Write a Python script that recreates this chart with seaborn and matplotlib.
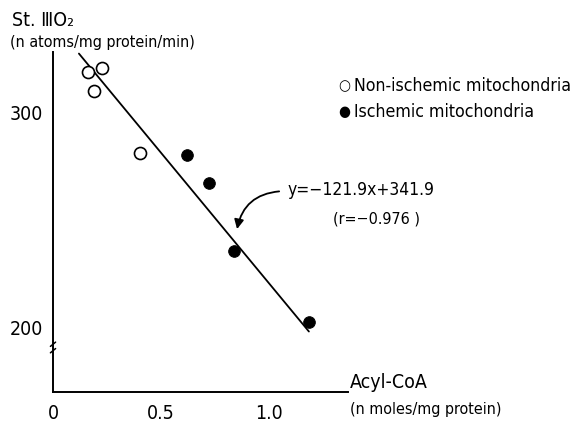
import numpy as np
import pandas as pd
import matplotlib
matplotlib.use("Agg")
import matplotlib.pyplot as plt
import seaborn as sns

# values
non_isch_x = [0.163, 0.227, 0.191, 0.401]
non_isch_y = [318.8, 320.4, 309.7, 280.7]
isch_x = [0.619, 0.724, 0.839, 1.185]
isch_y = [280.0, 266.7, 235.0, 201.7]
slope, intercept = -121.9, 341.9
fit_x = [0.12, 1.185]
x_ticks = [0, 0.5, 1.0]
x_tick_labels = ["0", "0.5", "1.0"]
y_ticks = [200, 300]

sns.set_style("white")
plt.rcParams['font.family'] = ['DejaVu Sans']
plt.rcParams['font.stretch'] = 'condensed'
plt.rcParams['text.color'] = 'black'
plt.rcParams['xtick.color'] = 'black'
plt.rcParams['ytick.color'] = 'black'

data = pd.DataFrame({
    "acyl": non_isch_x + isch_x,
    "o2": non_isch_y + isch_y,
    "group": ["Non-ischemic mitochondria"] * len(non_isch_x) + ["Ischemic mitochondria"] * len(isch_x),
})
fit = pd.DataFrame({"acyl": fit_x, "o2": [slope * v + intercept for v in fit_x]})

fig = plt.figure(figsize=(5.85, 4.31), dpi=100)
ax = fig.add_axes([53 / 585, 38 / 431, 295 / 585, 340 / 431])

sns.lineplot(x="acyl", y="o2", data=fit, color="black", linewidth=1.3, ax=ax)
sns.scatterplot(x="acyl", y="o2", data=data[data.group == "Non-ischemic mitochondria"],
                marker="o", s=75, facecolor="white", edgecolor="black", linewidth=1.2, ax=ax, zorder=3)
sns.scatterplot(x="acyl", y="o2", data=data[data.group == "Ischemic mitochondria"],
                marker="o", s=70, color="black", edgecolor="black", ax=ax, zorder=3)

ax.set_xlim(0, 1.366)
ax.set_ylim(169.2, 328)
ax.set_xticks(x_ticks)
ax.set_xticklabels(x_tick_labels, fontsize=14)
ax.set_yticks(y_ticks)
ax.set_yticklabels([str(v) for v in y_ticks], fontsize=14)
ax.tick_params(axis="both", direction="out", length=5, width=1.2, pad=2)
ax.tick_params(axis="x", length=4, pad=4)
ax.set_xlabel("")
ax.set_ylabel("")
for side in ["top", "right"]:
    ax.spines[side].set_visible(False)
for side in ["left", "bottom"]:
    ax.spines[side].set_color("black")
    ax.spines[side].set_linewidth(1.4)

# axis break marks on the y axis
for yb in [188.5, 191.5]:
    ax.plot([-0.012, 0.012], [yb - 1.0, yb + 1.0], color="black", lw=1.1, clip_on=False)

# axis titles
fig.text(12 / 585, 1 - 20 / 431, "St. \u2162O\u2082", fontsize=14, va="center", ha="left")
fig.text(10 / 585, 1 - 42 / 431, "(n atoms/mg protein/min)", fontsize=11.5, va="center", ha="left")
fig.text(350 / 585, 1 - 383 / 431, "Acyl-CoA", fontsize=14, va="center", ha="left")
fig.text(350 / 585, 1 - 410 / 431, "(n moles/mg protein)", fontsize=11.5, va="center", ha="left")

# legend
fig.text(338 / 585, 1 - 86 / 431, "\u25cb", fontsize=11, va="center", ha="left")
fig.text(354 / 585, 1 - 86 / 431, "Non-ischemic mitochondria", fontsize=12.7, va="center", ha="left")
fig.text(338 / 585, 1 - 112 / 431, "\u25cf", fontsize=11, va="center", ha="left")
fig.text(354 / 585, 1 - 112 / 431, "Ischemic mitochondria", fontsize=12.7, va="center", ha="left")

# regression equation with arrow
ax.annotate("", xy=(0.85, 244.0), xytext=(1.06, 263.0),
            arrowprops=dict(arrowstyle="-|>", color="black", lw=1.3,
                            connectionstyle="arc3,rad=0.4", mutation_scale=14))
fig.text(288 / 585, 1 - 190 / 431, "y=\u2212121.9x+341.9", fontsize=12.5, va="center", ha="left")
fig.text(333 / 585, 1 - 219 / 431, "(r=\u22120.976 )", fontsize=11.5, va="center", ha="left")

fig.savefig("out.png", dpi=100)
